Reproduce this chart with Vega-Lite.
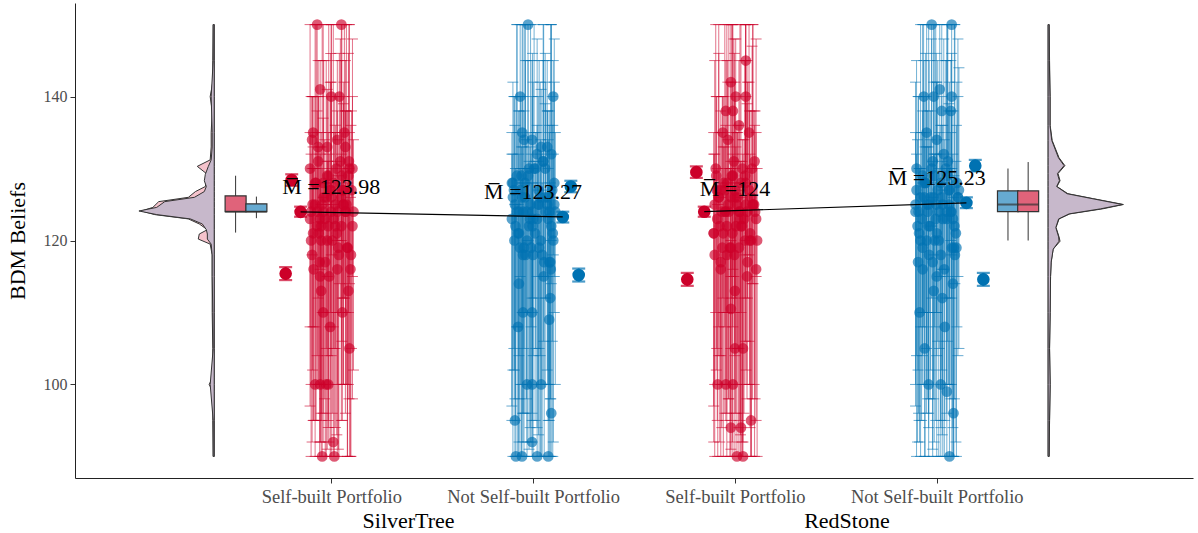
{
"$schema":"https://vega.github.io/schema/vega-lite/v6.json",
"width":1118,"height":475,
"autosize":{"type":"none"},
"padding":{"left":75,"top":3,"right":5,"bottom":55},
"config":{"view":{"stroke":null},"font":"Liberation Serif"},
"datasets":{
"pts":[
{"g":"S","x":0.93,"y":150,"lo":124,"hi":150},{"g":"S","x":1.05,"y":150,"lo":120,"hi":150},{"g":"S","x":0.945,"y":141,"lo":116,"hi":145},{"g":"S","x":1.0,"y":140,"lo":118,"hi":150},{"g":"S","x":1.04,"y":140,"lo":114,"hi":146},{"g":"S","x":0.91,"y":135,"lo":108,"hi":140},{"g":"S","x":1.065,"y":135,"lo":112,"hi":150},{"g":"S","x":0.905,"y":134,"lo":118,"hi":140},{"g":"S","x":1.03,"y":134,"lo":120,"hi":138},{"g":"S","x":0.98,"y":133,"lo":104,"hi":141},{"g":"S","x":1.07,"y":133,"lo":110,"hi":145},{"g":"S","x":0.935,"y":133,"lo":100,"hi":140},
{"g":"S","x":0.945,"y":115,"lo":100,"hi":128},{"g":"S","x":0.95,"y":113,"lo":95,"hi":125},{"g":"S","x":1.085,"y":113,"lo":100,"hi":130},{"g":"S","x":0.96,"y":110,"lo":92,"hi":126},{"g":"S","x":1.055,"y":110,"lo":95,"hi":130},{"g":"S","x":0.995,"y":108,"lo":90,"hi":128},{"g":"S","x":1.09,"y":105,"lo":90,"hi":135},{"g":"S","x":0.92,"y":100,"lo":90,"hi":130},{"g":"S","x":0.945,"y":100,"lo":92,"hi":128},{"g":"S","x":0.975,"y":100,"lo":90,"hi":125},{"g":"S","x":0.985,"y":100,"lo":95,"hi":135},{"g":"S","x":1.01,"y":92,"lo":90,"hi":125},{"g":"S","x":0.955,"y":90,"lo":90,"hi":130},{"g":"S","x":1.015,"y":90,"lo":90,"hi":140},
{"g":"S","x":0.9,"y":124,"lo":100,"hi":140},{"g":"S","x":0.925,"y":128,"lo":95,"hi":150},{"g":"S","x":0.95,"y":120,"lo":90,"hi":135},{"g":"S","x":0.975,"y":126,"lo":105,"hi":145},{"g":"S","x":1.0,"y":124,"lo":90,"hi":150},{"g":"S","x":1.025,"y":130,"lo":110,"hi":140},{"g":"S","x":1.05,"y":122,"lo":95,"hi":132},{"g":"S","x":1.075,"y":125,"lo":100,"hi":150},{"g":"S","x":1.1,"y":127,"lo":105,"hi":138},
{"g":"S","x":0.905,"y":118,"lo":92,"hi":130},{"g":"S","x":0.93,"y":122,"lo":100,"hi":135},{"g":"S","x":0.955,"y":125,"lo":110,"hi":150},{"g":"S","x":0.98,"y":129,"lo":115,"hi":140},{"g":"S","x":1.005,"y":120,"lo":96,"hi":130},{"g":"S","x":1.03,"y":124,"lo":100,"hi":145},{"g":"S","x":1.055,"y":127,"lo":112,"hi":135},{"g":"S","x":1.08,"y":119,"lo":90,"hi":128},{"g":"S","x":1.105,"y":122,"lo":98,"hi":140},
{"g":"S","x":0.895,"y":130,"lo":108,"hi":150},{"g":"S","x":0.92,"y":125,"lo":95,"hi":140},{"g":"S","x":0.945,"y":123,"lo":92,"hi":132},{"g":"S","x":0.97,"y":117,"lo":90,"hi":128},{"g":"S","x":0.995,"y":127,"lo":100,"hi":142},{"g":"S","x":1.02,"y":125,"lo":105,"hi":135},{"g":"S","x":1.045,"y":131,"lo":110,"hi":148},{"g":"S","x":1.07,"y":124,"lo":96,"hi":138},{"g":"S","x":1.095,"y":116,"lo":90,"hi":126},
{"g":"S","x":0.91,"y":121,"lo":95,"hi":133},{"g":"S","x":0.935,"y":131,"lo":112,"hi":145},{"g":"S","x":0.96,"y":124,"lo":100,"hi":137},{"g":"S","x":0.985,"y":122,"lo":94,"hi":131},{"g":"S","x":1.01,"y":128,"lo":108,"hi":150},{"g":"S","x":1.035,"y":119,"lo":91,"hi":129},{"g":"S","x":1.06,"y":125,"lo":100,"hi":140},{"g":"S","x":1.085,"y":129,"lo":110,"hi":146},{"g":"S","x":1.11,"y":124,"lo":102,"hi":134},
{"g":"S","x":0.9125,"y":116,"lo":95,"hi":130},{"g":"S","x":0.9375,"y":121,"lo":100,"hi":140},{"g":"S","x":0.9625,"y":126,"lo":110,"hi":145},{"g":"S","x":0.9875,"y":129,"lo":92,"hi":150},{"g":"S","x":1.0125,"y":123,"lo":105,"hi":135},{"g":"S","x":1.0375,"y":118,"lo":90,"hi":134},{"g":"S","x":1.0625,"y":127,"lo":112,"hi":142},{"g":"S","x":1.0875,"y":131,"lo":98,"hi":150},
{"g":"S","x":0.9,"y":120,"lo":90,"hi":132},{"g":"S","x":0.93,"y":124,"lo":104,"hi":138},{"g":"S","x":0.96,"y":128,"lo":96,"hi":150},{"g":"S","x":0.99,"y":115,"lo":108,"hi":132},{"g":"S","x":1.02,"y":122,"lo":94,"hi":136},{"g":"S","x":1.05,"y":126,"lo":100,"hi":145},{"g":"S","x":1.08,"y":119,"lo":90,"hi":138},{"g":"S","x":1.105,"y":130,"lo":115,"hi":148},
{"g":"S","x":0.9075,"y":125,"lo":102,"hi":140},{"g":"S","x":0.9425,"y":117,"lo":90,"hi":133},{"g":"S","x":0.9675,"y":123,"lo":98,"hi":134},{"g":"S","x":0.9975,"y":127,"lo":110,"hi":146},{"g":"S","x":1.0275,"y":121,"lo":93,"hi":131},{"g":"S","x":1.0525,"y":129,"lo":106,"hi":150},{"g":"S","x":1.0725,"y":124,"lo":100,"hi":138},{"g":"S","x":1.0975,"y":118,"lo":90,"hi":136},
{"g":"S","x":0.92,"y":128,"lo":108,"hi":150},{"g":"S","x":0.95,"y":122,"lo":96,"hi":133},{"g":"S","x":0.98,"y":120,"lo":91,"hi":131},{"g":"S","x":1.0,"y":126,"lo":104,"hi":142},{"g":"S","x":1.03,"y":116,"lo":90,"hi":127},{"g":"S","x":1.06,"y":125,"lo":100,"hi":139},{"g":"S","x":1.09,"y":130,"lo":114,"hi":150},{"g":"S","x":0.895,"y":123,"lo":97,"hi":135},

{"g":"N","x":1.975,"y":150,"lo":120,"hi":150},{"g":"N","x":1.936,"y":140,"lo":115,"hi":150},{"g":"N","x":2.1,"y":140,"lo":118,"hi":145},{"g":"N","x":1.946,"y":135,"lo":110,"hi":150},{"g":"N","x":1.995,"y":134,"lo":112,"hi":140},{"g":"N","x":1.955,"y":134,"lo":105,"hi":138},{"g":"N","x":2.07,"y":133,"lo":115,"hi":145},{"g":"N","x":2.04,"y":133,"lo":100,"hi":141},{"g":"N","x":2.09,"y":132,"lo":120,"hi":150},
{"g":"N","x":1.95,"y":110,"lo":92,"hi":130},{"g":"N","x":1.995,"y":110,"lo":95,"hi":128},{"g":"N","x":1.926,"y":108,"lo":90,"hi":125},{"g":"N","x":2.08,"y":109,"lo":95,"hi":135},{"g":"N","x":1.97,"y":100,"lo":90,"hi":130},{"g":"N","x":1.995,"y":100,"lo":92,"hi":128},{"g":"N","x":2.04,"y":100,"lo":90,"hi":132},{"g":"N","x":1.91,"y":95,"lo":90,"hi":125},{"g":"N","x":2.09,"y":96,"lo":90,"hi":126},{"g":"N","x":1.995,"y":92,"lo":90,"hi":130},{"g":"N","x":1.915,"y":90,"lo":90,"hi":140},{"g":"N","x":1.945,"y":90,"lo":90,"hi":128},{"g":"N","x":2.02,"y":90,"lo":90,"hi":135},{"g":"N","x":2.075,"y":90,"lo":90,"hi":130},{"g":"N","x":2.085,"y":112,"lo":98,"hi":128},{"g":"N","x":1.93,"y":114,"lo":92,"hi":132},
{"g":"N","x":1.9,"y":126,"lo":102,"hi":142},{"g":"N","x":1.925,"y":121,"lo":90,"hi":135},{"g":"N","x":1.95,"y":124,"lo":96,"hi":150},{"g":"N","x":1.975,"y":129,"lo":110,"hi":145},{"g":"N","x":2.0,"y":118,"lo":90,"hi":130},{"g":"N","x":2.025,"y":125,"lo":100,"hi":140},{"g":"N","x":2.05,"y":131,"lo":115,"hi":150},{"g":"N","x":2.075,"y":123,"lo":95,"hi":134},{"g":"N","x":2.1,"y":120,"lo":92,"hi":132},
{"g":"N","x":1.905,"y":127,"lo":105,"hi":140},{"g":"N","x":1.93,"y":124,"lo":98,"hi":138},{"g":"N","x":1.955,"y":119,"lo":90,"hi":128},{"g":"N","x":1.98,"y":122,"lo":100,"hi":135},{"g":"N","x":2.005,"y":130,"lo":112,"hi":150},{"g":"N","x":2.03,"y":125,"lo":105,"hi":145},{"g":"N","x":2.055,"y":117,"lo":90,"hi":126},{"g":"N","x":2.08,"y":124,"lo":100,"hi":136},{"g":"N","x":2.105,"y":128,"lo":110,"hi":142},
{"g":"N","x":1.895,"y":123,"lo":95,"hi":132},{"g":"N","x":1.92,"y":129,"lo":108,"hi":150},{"g":"N","x":1.945,"y":126,"lo":100,"hi":140},{"g":"N","x":1.97,"y":120,"lo":92,"hi":130},{"g":"N","x":1.995,"y":124,"lo":96,"hi":145},{"g":"N","x":2.02,"y":132,"lo":115,"hi":148},{"g":"N","x":2.045,"y":118,"lo":90,"hi":128},{"g":"N","x":2.07,"y":125,"lo":102,"hi":138},{"g":"N","x":2.095,"y":127,"lo":106,"hi":140},
{"g":"N","x":1.91,"y":125,"lo":98,"hi":136},{"g":"N","x":1.935,"y":119,"lo":90,"hi":130},{"g":"N","x":1.96,"y":128,"lo":110,"hi":150},{"g":"N","x":1.985,"y":123,"lo":94,"hi":133},{"g":"N","x":2.01,"y":121,"lo":95,"hi":131},{"g":"N","x":2.035,"y":126,"lo":104,"hi":142},{"g":"N","x":2.06,"y":130,"lo":112,"hi":146},{"g":"N","x":2.085,"y":117,"lo":90,"hi":127},{"g":"N","x":2.11,"y":124,"lo":100,"hi":135},
{"g":"N","x":1.9125,"y":122,"lo":95,"hi":130},{"g":"N","x":1.9375,"y":127,"lo":100,"hi":140},{"g":"N","x":1.9625,"y":118,"lo":110,"hi":145},{"g":"N","x":1.9875,"y":125,"lo":92,"hi":150},{"g":"N","x":2.0125,"y":130,"lo":105,"hi":135},{"g":"N","x":2.0375,"y":120,"lo":90,"hi":134},{"g":"N","x":2.0625,"y":124,"lo":112,"hi":142},{"g":"N","x":2.0875,"y":116,"lo":98,"hi":150},
{"g":"N","x":1.9,"y":128,"lo":90,"hi":132},{"g":"N","x":1.93,"y":121,"lo":104,"hi":138},{"g":"N","x":1.96,"y":126,"lo":96,"hi":150},{"g":"N","x":1.99,"y":119,"lo":108,"hi":132},{"g":"N","x":2.02,"y":123,"lo":94,"hi":136},{"g":"N","x":2.05,"y":131,"lo":100,"hi":145},{"g":"N","x":2.08,"y":117,"lo":90,"hi":138},{"g":"N","x":2.105,"y":125,"lo":115,"hi":148},
{"g":"N","x":1.9075,"y":120,"lo":102,"hi":140},{"g":"N","x":1.9425,"y":129,"lo":90,"hi":133},{"g":"N","x":1.9675,"y":124,"lo":98,"hi":134},{"g":"N","x":1.9975,"y":122,"lo":110,"hi":146},{"g":"N","x":2.0275,"y":127,"lo":93,"hi":131},{"g":"N","x":2.0525,"y":115,"lo":106,"hi":150},{"g":"N","x":2.0725,"y":126,"lo":100,"hi":138},{"g":"N","x":2.0975,"y":121,"lo":90,"hi":136},
{"g":"N","x":1.92,"y":124,"lo":108,"hi":150},{"g":"N","x":1.95,"y":118,"lo":96,"hi":133},{"g":"N","x":1.98,"y":130,"lo":91,"hi":131},{"g":"N","x":2.0,"y":123,"lo":104,"hi":142},{"g":"N","x":2.03,"y":119,"lo":90,"hi":127},{"g":"N","x":2.06,"y":126,"lo":100,"hi":139},{"g":"N","x":2.09,"y":122,"lo":114,"hi":150},{"g":"N","x":1.895,"y":128,"lo":97,"hi":135},

{"g":"S","x":3.054,"y":145,"lo":118,"hi":150},{"g":"S","x":2.98,"y":142,"lo":115,"hi":150},{"g":"S","x":3.004,"y":140,"lo":112,"hi":148},{"g":"S","x":3.054,"y":140,"lo":120,"hi":150},{"g":"S","x":2.955,"y":138,"lo":110,"hi":145},{"g":"S","x":2.99,"y":138,"lo":116,"hi":150},{"g":"S","x":3.02,"y":136,"lo":105,"hi":145},{"g":"S","x":2.94,"y":135,"lo":112,"hi":140},{"g":"S","x":3.07,"y":135,"lo":118,"hi":150},{"g":"S","x":2.965,"y":134,"lo":100,"hi":142},
{"g":"S","x":2.98,"y":110.5,"lo":95,"hi":130},{"g":"S","x":3.0,"y":105,"lo":90,"hi":128},{"g":"S","x":3.04,"y":105,"lo":92,"hi":132},{"g":"S","x":2.915,"y":100,"lo":90,"hi":125},{"g":"S","x":2.955,"y":100,"lo":95,"hi":130},{"g":"S","x":2.99,"y":100,"lo":90,"hi":135},{"g":"S","x":2.98,"y":94,"lo":90,"hi":120},{"g":"S","x":3.03,"y":94,"lo":90,"hi":126},{"g":"S","x":3.08,"y":95,"lo":90,"hi":130},{"g":"S","x":3.01,"y":90,"lo":90,"hi":135},{"g":"S","x":3.04,"y":90,"lo":90,"hi":128},{"g":"S","x":3.0,"y":113,"lo":96,"hi":130},{"g":"S","x":2.93,"y":116,"lo":100,"hi":128},
{"g":"S","x":2.9,"y":125,"lo":100,"hi":145},{"g":"S","x":2.925,"y":122,"lo":92,"hi":135},{"g":"S","x":2.95,"y":127,"lo":108,"hi":150},{"g":"S","x":2.975,"y":119,"lo":90,"hi":130},{"g":"S","x":3.0,"y":126,"lo":100,"hi":140},{"g":"S","x":3.025,"y":124,"lo":95,"hi":150},{"g":"S","x":3.05,"y":129,"lo":112,"hi":145},{"g":"S","x":3.075,"y":121,"lo":94,"hi":132},{"g":"S","x":3.1,"y":124,"lo":98,"hi":138},
{"g":"S","x":2.905,"y":130,"lo":110,"hi":150},{"g":"S","x":2.93,"y":117,"lo":90,"hi":126},{"g":"S","x":2.955,"y":124,"lo":100,"hi":136},{"g":"S","x":2.98,"y":126,"lo":105,"hi":142},{"g":"S","x":3.005,"y":122,"lo":96,"hi":133},{"g":"S","x":3.03,"y":128,"lo":110,"hi":150},{"g":"S","x":3.055,"y":125,"lo":102,"hi":140},{"g":"S","x":3.08,"y":120,"lo":90,"hi":130},{"g":"S","x":3.105,"y":123,"lo":95,"hi":135},
{"g":"S","x":2.895,"y":121,"lo":92,"hi":132},{"g":"S","x":2.92,"y":126,"lo":104,"hi":146},{"g":"S","x":2.945,"y":128,"lo":110,"hi":140},{"g":"S","x":2.97,"y":124,"lo":98,"hi":150},{"g":"S","x":2.995,"y":131,"lo":115,"hi":148},{"g":"S","x":3.02,"y":119,"lo":90,"hi":128},{"g":"S","x":3.045,"y":123,"lo":96,"hi":134},{"g":"S","x":3.07,"y":127,"lo":106,"hi":142},{"g":"S","x":3.095,"y":125,"lo":100,"hi":138},
{"g":"S","x":2.91,"y":127,"lo":105,"hi":140},{"g":"S","x":2.935,"y":124,"lo":94,"hi":135},{"g":"S","x":2.96,"y":118,"lo":90,"hi":128},{"g":"S","x":2.985,"y":129,"lo":112,"hi":150},{"g":"S","x":3.01,"y":125,"lo":100,"hi":136},{"g":"S","x":3.035,"y":122,"lo":92,"hi":131},{"g":"S","x":3.06,"y":124,"lo":98,"hi":145},{"g":"S","x":3.085,"y":130,"lo":114,"hi":147},{"g":"S","x":3.11,"y":120,"lo":90,"hi":130},
{"g":"S","x":2.9125,"y":123,"lo":95,"hi":130},{"g":"S","x":2.9375,"y":119,"lo":100,"hi":140},{"g":"S","x":2.9625,"y":128,"lo":110,"hi":145},{"g":"S","x":2.9875,"y":121,"lo":92,"hi":150},{"g":"S","x":3.0125,"y":126,"lo":105,"hi":135},{"g":"S","x":3.0375,"y":130,"lo":90,"hi":134},{"g":"S","x":3.0625,"y":117,"lo":112,"hi":142},{"g":"S","x":3.0875,"y":125,"lo":98,"hi":150},
{"g":"S","x":2.9,"y":118,"lo":90,"hi":132},{"g":"S","x":2.93,"y":127,"lo":104,"hi":138},{"g":"S","x":2.96,"y":122,"lo":96,"hi":150},{"g":"S","x":2.99,"y":129,"lo":108,"hi":132},{"g":"S","x":3.02,"y":124,"lo":94,"hi":136},{"g":"S","x":3.05,"y":120,"lo":100,"hi":145},{"g":"S","x":3.08,"y":126,"lo":90,"hi":138},{"g":"S","x":3.105,"y":116,"lo":115,"hi":148},
{"g":"S","x":2.9075,"y":129,"lo":102,"hi":140},{"g":"S","x":2.9425,"y":121,"lo":90,"hi":133},{"g":"S","x":2.9675,"y":125,"lo":98,"hi":134},{"g":"S","x":2.9975,"y":118,"lo":110,"hi":146},{"g":"S","x":3.0275,"y":123,"lo":93,"hi":131},{"g":"S","x":3.0525,"y":128,"lo":106,"hi":150},{"g":"S","x":3.0725,"y":120,"lo":100,"hi":138},{"g":"S","x":3.0975,"y":131,"lo":90,"hi":136},
{"g":"S","x":2.92,"y":126,"lo":108,"hi":150},{"g":"S","x":2.95,"y":124,"lo":96,"hi":133},{"g":"S","x":2.98,"y":119,"lo":91,"hi":131},{"g":"S","x":3.0,"y":127,"lo":104,"hi":142},{"g":"S","x":3.03,"y":122,"lo":90,"hi":127},{"g":"S","x":3.06,"y":115,"lo":100,"hi":139},{"g":"S","x":3.09,"y":125,"lo":114,"hi":150},{"g":"S","x":2.895,"y":121,"lo":97,"hi":135},

{"g":"N","x":3.975,"y":150,"lo":122,"hi":150},{"g":"N","x":4.074,"y":150,"lo":118,"hi":150},{"g":"N","x":4.015,"y":141,"lo":115,"hi":150},{"g":"N","x":3.936,"y":140,"lo":110,"hi":145},{"g":"N","x":3.985,"y":140,"lo":118,"hi":150},{"g":"N","x":4.074,"y":140,"lo":112,"hi":146},{"g":"N","x":4.025,"y":138,"lo":116,"hi":150},{"g":"N","x":4.07,"y":138,"lo":120,"hi":145},{"g":"N","x":3.95,"y":135,"lo":105,"hi":140},{"g":"N","x":4.0,"y":134,"lo":110,"hi":142},
{"g":"N","x":3.915,"y":110,"lo":92,"hi":130},{"g":"N","x":3.96,"y":100,"lo":90,"hi":128},{"g":"N","x":4.02,"y":100,"lo":95,"hi":132},{"g":"N","x":4.05,"y":99,"lo":90,"hi":130},{"g":"N","x":4.083,"y":96,"lo":90,"hi":126},{"g":"N","x":4.063,"y":90,"lo":90,"hi":130},{"g":"N","x":3.94,"y":105,"lo":90,"hi":135},{"g":"N","x":4.04,"y":108,"lo":95,"hi":128},{"g":"N","x":3.985,"y":113,"lo":98,"hi":132},{"g":"N","x":3.93,"y":116,"lo":100,"hi":128},
{"g":"N","x":3.9,"y":127,"lo":104,"hi":145},{"g":"N","x":3.925,"y":123,"lo":95,"hi":135},{"g":"N","x":3.95,"y":125,"lo":100,"hi":150},{"g":"N","x":3.975,"y":130,"lo":112,"hi":148},{"g":"N","x":4.0,"y":121,"lo":90,"hi":132},{"g":"N","x":4.025,"y":126,"lo":102,"hi":140},{"g":"N","x":4.05,"y":124,"lo":96,"hi":150},{"g":"N","x":4.075,"y":119,"lo":90,"hi":130},{"g":"N","x":4.1,"y":128,"lo":108,"hi":142},
{"g":"N","x":3.905,"y":122,"lo":92,"hi":134},{"g":"N","x":3.93,"y":129,"lo":110,"hi":150},{"g":"N","x":3.955,"y":124,"lo":98,"hi":138},{"g":"N","x":3.98,"y":117,"lo":90,"hi":126},{"g":"N","x":4.005,"y":127,"lo":106,"hi":145},{"g":"N","x":4.03,"y":125,"lo":100,"hi":136},{"g":"N","x":4.055,"y":131,"lo":115,"hi":150},{"g":"N","x":4.08,"y":123,"lo":94,"hi":132},{"g":"N","x":4.105,"y":126,"lo":104,"hi":140},
{"g":"N","x":3.895,"y":125,"lo":100,"hi":142},{"g":"N","x":3.92,"y":120,"lo":90,"hi":130},{"g":"N","x":3.945,"y":128,"lo":110,"hi":146},{"g":"N","x":3.97,"y":126,"lo":102,"hi":138},{"g":"N","x":3.995,"y":123,"lo":95,"hi":150},{"g":"N","x":4.02,"y":118,"lo":90,"hi":128},{"g":"N","x":4.045,"y":130,"lo":112,"hi":145},{"g":"N","x":4.07,"y":124,"lo":98,"hi":135},{"g":"N","x":4.095,"y":121,"lo":92,"hi":131},
{"g":"N","x":3.91,"y":124,"lo":96,"hi":140},{"g":"N","x":3.935,"y":128,"lo":108,"hi":150},{"g":"N","x":3.96,"y":122,"lo":94,"hi":133},{"g":"N","x":3.985,"y":126,"lo":100,"hi":142},{"g":"N","x":4.01,"y":120,"lo":90,"hi":130},{"g":"N","x":4.035,"y":132,"lo":116,"hi":148},{"g":"N","x":4.06,"y":125,"lo":100,"hi":138},{"g":"N","x":4.085,"y":119,"lo":90,"hi":129},{"g":"N","x":4.11,"y":127,"lo":105,"hi":144},
{"g":"N","x":3.9125,"y":121,"lo":95,"hi":130},{"g":"N","x":3.9375,"y":126,"lo":100,"hi":140},{"g":"N","x":3.9625,"y":118,"lo":110,"hi":145},{"g":"N","x":3.9875,"y":129,"lo":92,"hi":150},{"g":"N","x":4.0125,"y":124,"lo":105,"hi":135},{"g":"N","x":4.0375,"y":116,"lo":90,"hi":134},{"g":"N","x":4.0625,"y":127,"lo":112,"hi":142},{"g":"N","x":4.0875,"y":122,"lo":98,"hi":150},
{"g":"N","x":3.9,"y":130,"lo":90,"hi":132},{"g":"N","x":3.93,"y":119,"lo":104,"hi":138},{"g":"N","x":3.96,"y":125,"lo":96,"hi":150},{"g":"N","x":3.99,"y":120,"lo":108,"hi":132},{"g":"N","x":4.02,"y":128,"lo":94,"hi":136},{"g":"N","x":4.05,"y":123,"lo":100,"hi":145},{"g":"N","x":4.08,"y":114,"lo":90,"hi":138},{"g":"N","x":4.105,"y":126,"lo":115,"hi":148},
{"g":"N","x":3.9075,"y":117,"lo":102,"hi":140},{"g":"N","x":3.9425,"y":128,"lo":90,"hi":133},{"g":"N","x":3.9675,"y":122,"lo":98,"hi":134},{"g":"N","x":3.9975,"y":125,"lo":110,"hi":146},{"g":"N","x":4.0275,"y":112,"lo":93,"hi":131},{"g":"N","x":4.0525,"y":129,"lo":106,"hi":150},{"g":"N","x":4.0725,"y":124,"lo":100,"hi":138},{"g":"N","x":4.0975,"y":119,"lo":90,"hi":136},
{"g":"N","x":3.92,"y":126,"lo":108,"hi":150},{"g":"N","x":3.95,"y":120,"lo":96,"hi":133},{"g":"N","x":3.98,"y":131,"lo":91,"hi":131},{"g":"N","x":4.0,"y":115,"lo":104,"hi":142},{"g":"N","x":4.03,"y":123,"lo":90,"hi":127},{"g":"N","x":4.06,"y":127,"lo":100,"hi":139},{"g":"N","x":4.09,"y":118,"lo":114,"hi":150},{"g":"N","x":3.895,"y":124,"lo":97,"hi":135}
],
"dens":[
{"side":"L","g":"S","y":90,"edge":0.415},{"side":"L","g":"S","y":95,"edge":0.413},{"side":"L","g":"S","y":99,"edge":0.413},{"side":"L","g":"S","y":100,"edge":0.395},{"side":"L","g":"S","y":101,"edge":0.413},{"side":"L","g":"S","y":105,"edge":0.413},{"side":"L","g":"S","y":110,"edge":0.41},{"side":"L","g":"S","y":115,"edge":0.41},{"side":"L","g":"S","y":118,"edge":0.41},{"side":"L","g":"S","y":119.5,"edge":0.4},{"side":"L","g":"S","y":120.2,"edge":0.341},{"side":"L","g":"S","y":120.9,"edge":0.346},{"side":"L","g":"S","y":121.5,"edge":0.386},{"side":"L","g":"S","y":122.3,"edge":0.346},{"side":"L","g":"S","y":123.0,"edge":0.292},{"side":"L","g":"S","y":123.6,"edge":0.125},{"side":"L","g":"S","y":124.1,"edge":0.06},{"side":"L","g":"S","y":124.6,"edge":0.116},{"side":"L","g":"S","y":125.4,"edge":0.145},{"side":"L","g":"S","y":126.0,"edge":0.292},{"side":"L","g":"S","y":126.8,"edge":0.327},{"side":"L","g":"S","y":127.5,"edge":0.376},{"side":"L","g":"S","y":128.3,"edge":0.381},{"side":"L","g":"S","y":129.2,"edge":0.386},{"side":"L","g":"S","y":130.3,"edge":0.336},{"side":"L","g":"S","y":131.2,"edge":0.4},{"side":"L","g":"S","y":133,"edge":0.405},{"side":"L","g":"S","y":135,"edge":0.405},{"side":"L","g":"S","y":138,"edge":0.41},{"side":"L","g":"S","y":140,"edge":0.4},{"side":"L","g":"S","y":142,"edge":0.413},{"side":"L","g":"S","y":145,"edge":0.413},{"side":"L","g":"S","y":150,"edge":0.415},
{"side":"L","g":"N","y":90,"edge":0.415},{"side":"L","g":"N","y":95,"edge":0.415},{"side":"L","g":"N","y":100,"edge":0.4},{"side":"L","g":"N","y":105,"edge":0.415},{"side":"L","g":"N","y":110,"edge":0.413},{"side":"L","g":"N","y":115,"edge":0.41},{"side":"L","g":"N","y":118,"edge":0.41},{"side":"L","g":"N","y":119.5,"edge":0.405},{"side":"L","g":"N","y":120.2,"edge":0.386},{"side":"L","g":"N","y":120.9,"edge":0.386},{"side":"L","g":"N","y":121.5,"edge":0.381},{"side":"L","g":"N","y":122.3,"edge":0.361},{"side":"L","g":"N","y":123.0,"edge":0.302},{"side":"L","g":"N","y":123.6,"edge":0.135},{"side":"L","g":"N","y":124.1,"edge":0.047},{"side":"L","g":"N","y":124.6,"edge":0.135},{"side":"L","g":"N","y":125.4,"edge":0.175},{"side":"L","g":"N","y":126.0,"edge":0.322},{"side":"L","g":"N","y":126.8,"edge":0.371},{"side":"L","g":"N","y":127.5,"edge":0.381},{"side":"L","g":"N","y":128.3,"edge":0.371},{"side":"L","g":"N","y":129.2,"edge":0.376},{"side":"L","g":"N","y":130.3,"edge":0.391},{"side":"L","g":"N","y":131.2,"edge":0.405},{"side":"L","g":"N","y":133,"edge":0.41},{"side":"L","g":"N","y":135,"edge":0.41},{"side":"L","g":"N","y":140,"edge":0.405},{"side":"L","g":"N","y":145,"edge":0.415},{"side":"L","g":"N","y":150,"edge":0.415},
{"side":"R","g":"S","y":90,"edge":4.557},{"side":"R","g":"S","y":95,"edge":4.559},{"side":"R","g":"S","y":100,"edge":4.562},{"side":"R","g":"S","y":105,"edge":4.559},{"side":"R","g":"S","y":110,"edge":4.562},{"side":"R","g":"S","y":115,"edge":4.564},{"side":"R","g":"S","y":117,"edge":4.567},{"side":"R","g":"S","y":118.8,"edge":4.577},{"side":"R","g":"S","y":119.9,"edge":4.611},{"side":"R","g":"S","y":120.5,"edge":4.606},{"side":"R","g":"S","y":121.8,"edge":4.591},{"side":"R","g":"S","y":123.0,"edge":4.606},{"side":"R","g":"S","y":123.7,"edge":4.66},{"side":"R","g":"S","y":124.4,"edge":4.822},{"side":"R","g":"S","y":125.0,"edge":4.925},{"side":"R","g":"S","y":125.8,"edge":4.778},{"side":"R","g":"S","y":126.5,"edge":4.65},{"side":"R","g":"S","y":127.5,"edge":4.596},{"side":"R","g":"S","y":128.3,"edge":4.611},{"side":"R","g":"S","y":129.3,"edge":4.601},{"side":"R","g":"S","y":130.4,"edge":4.635},{"side":"R","g":"S","y":131.5,"edge":4.606},{"side":"R","g":"S","y":133.9,"edge":4.572},{"side":"R","g":"S","y":136,"edge":4.562},{"side":"R","g":"S","y":140,"edge":4.562},{"side":"R","g":"S","y":145,"edge":4.559},{"side":"R","g":"S","y":150,"edge":4.557},
{"side":"R","g":"N","y":90,"edge":4.557},{"side":"R","g":"N","y":95,"edge":4.559},{"side":"R","g":"N","y":100,"edge":4.562},{"side":"R","g":"N","y":105,"edge":4.559},{"side":"R","g":"N","y":110,"edge":4.562},{"side":"R","g":"N","y":115,"edge":4.564},{"side":"R","g":"N","y":117,"edge":4.567},{"side":"R","g":"N","y":118.8,"edge":4.577},{"side":"R","g":"N","y":119.9,"edge":4.606},{"side":"R","g":"N","y":120.5,"edge":4.604},{"side":"R","g":"N","y":121.8,"edge":4.59},{"side":"R","g":"N","y":123.0,"edge":4.604},{"side":"R","g":"N","y":123.7,"edge":4.656},{"side":"R","g":"N","y":124.4,"edge":4.812},{"side":"R","g":"N","y":125.0,"edge":4.92},{"side":"R","g":"N","y":125.8,"edge":4.773},{"side":"R","g":"N","y":126.5,"edge":4.646},{"side":"R","g":"N","y":127.5,"edge":4.594},{"side":"R","g":"N","y":128.3,"edge":4.608},{"side":"R","g":"N","y":129.3,"edge":4.598},{"side":"R","g":"N","y":130.4,"edge":4.631},{"side":"R","g":"N","y":131.5,"edge":4.603},{"side":"R","g":"N","y":133.9,"edge":4.57},{"side":"R","g":"N","y":136,"edge":4.561},{"side":"R","g":"N","y":140,"edge":4.561},{"side":"R","g":"N","y":145,"edge":4.558},{"side":"R","g":"N","y":150,"edge":4.557}
],
"box":[
{"g":"S","x":0.526,"lo":121.1,"q1":124.0,"med":124.0,"q3":126.2,"hi":129.0},
{"g":"N","x":0.629,"lo":123.1,"q1":124.0,"med":124.0,"q3":125.1,"hi":126.1},
{"g":"N","x":4.353,"lo":120,"q1":124,"med":125,"q3":126.9,"hi":130},
{"g":"S","x":4.453,"lo":120,"q1":124,"med":125,"q3":126.9,"hi":130.9}
],
"sum":[
{"g":"S","x":0.804,"m":128.4,"lo":127.6,"hi":129.2},{"g":"S","x":0.848,"m":123.98,"lo":123.3,"hi":124.7},{"g":"S","x":0.774,"m":115.4,"lo":114.5,"hi":116.3},
{"g":"N","x":2.187,"m":127.5,"lo":126.7,"hi":128.3},{"g":"N","x":2.147,"m":123.27,"lo":122.5,"hi":124.0},{"g":"N","x":2.226,"m":115.2,"lo":114.3,"hi":116.1},
{"g":"S","x":2.809,"m":129.5,"lo":128.7,"hi":130.3},{"g":"S","x":2.848,"m":124.0,"lo":123.3,"hi":124.7},{"g":"S","x":2.764,"m":114.6,"lo":113.7,"hi":115.5},
{"g":"N","x":4.191,"m":130.4,"lo":129.6,"hi":131.2},{"g":"N","x":4.147,"m":125.23,"lo":124.5,"hi":126.0},{"g":"N","x":4.231,"m":114.6,"lo":113.7,"hi":115.5}
],
"mline":[
{"co":"SilverTree","x":0.848,"m":123.98},{"co":"SilverTree","x":2.147,"m":123.27},
{"co":"RedStone","x":2.848,"m":124.0},{"co":"RedStone","x":4.147,"m":125.23}
],
"ann":[
{"x":1.0,"y":127.4,"label":"M\u0305  =123.98"},{"x":2.0,"y":126.7,"label":"M\u0305  =123.27"},
{"x":3.0,"y":127.2,"label":"M\u0305  =124"},{"x":4.0,"y":128.75,"label":"M\u0305  =125.23"}
],
"grp":[
{"x":1.383,"y":81,"label":"SilverTree"},{"x":3.555,"y":81,"label":"RedStone"}
]
},
"layer":[
{"data":{"name":"dens"},"transform":[{"filter":"datum.side=='L' && datum.g=='S'"}],
 "mark":{"type":"area","orient":"horizontal","fill":"#f5c3cc","stroke":"#333333","strokeWidth":1},
 "encoding":{
  "y":{"field":"y","type":"quantitative","scale":{"domain":[87,153],"nice":false,"zero":false},
       "axis":{"values":[100,120,140],"title":"BDM Beliefs","titleFont":"Liberation Serif","titleFontSize":22,"titleFontWeight":"normal","titleColor":"#000000","titlePadding":14,"labelFont":"Liberation Serif","labelFontSize":16,"labelColor":"#4d4d4d","tickColor":"#333333","tickSize":5,"domainColor":"#222222","grid":false,"labelPadding":3}},
  "x":{"field":"edge","type":"quantitative","scale":{"domain":[-0.245,5.245],"nice":false,"zero":false},
       "axis":{"values":[1,2,3,4],"title":null,"labelExpr":"datum.value==1||datum.value==3?'Self-built Portfolio':'Not Self-built Portfolio'","labelFont":"Liberation Serif","labelFontSize":18.5,"labelColor":"#4d4d4d","tickColor":"#333333","tickSize":5,"domainColor":"#222222","grid":false,"labelPadding":4}},
  "x2":{"datum":0.42}}},
{"data":{"name":"dens"},"transform":[{"filter":"datum.side=='L' && datum.g=='N'"}],
 "mark":{"type":"area","orient":"horizontal","fill":"#c7b8cb","stroke":"#333333","strokeWidth":1},
 "encoding":{"y":{"field":"y","type":"quantitative"},"x":{"field":"edge","type":"quantitative"},"x2":{"datum":0.42}}},
{"data":{"name":"dens"},"transform":[{"filter":"datum.side=='R' && datum.g=='S'"}],
 "mark":{"type":"area","orient":"horizontal","fill":"#f5c3cc","stroke":"#333333","strokeWidth":1},
 "encoding":{"y":{"field":"y","type":"quantitative"},"x":{"field":"edge","type":"quantitative"},"x2":{"datum":4.552}}},
{"data":{"name":"dens"},"transform":[{"filter":"datum.side=='R' && datum.g=='N'"}],
 "mark":{"type":"area","orient":"horizontal","fill":"#c7b8cb","stroke":"#333333","strokeWidth":1},
 "encoding":{"y":{"field":"y","type":"quantitative"},"x":{"field":"edge","type":"quantitative"},"x2":{"datum":4.552}}},
{"data":{"name":"box"},"mark":{"type":"rule","color":"#333333","strokeWidth":1},
 "encoding":{"x":{"field":"x","type":"quantitative"},"y":{"field":"lo","type":"quantitative"},"y2":{"field":"hi"}}},
{"data":{"name":"box"},"mark":{"type":"bar","width":21,"stroke":"#333333","strokeWidth":1.2},
 "encoding":{"x":{"field":"x","type":"quantitative"},"y":{"field":"q1","type":"quantitative"},"y2":{"field":"q3"},
  "fill":{"field":"g","type":"nominal","scale":{"domain":["S","N"],"range":["#E0637A","#66AAD1"]},"legend":null}}},
{"data":{"name":"box"},"mark":{"type":"tick","orient":"horizontal","size":21,"thickness":2,"color":"#333333"},
 "encoding":{"x":{"field":"x","type":"quantitative"},"y":{"field":"med","type":"quantitative"}}},
{"data":{"name":"pts"},"mark":{"type":"rule","strokeWidth":1,"opacity":0.55},
 "encoding":{"x":{"field":"x","type":"quantitative"},"y":{"field":"lo","type":"quantitative"},"y2":{"field":"hi"},
  "color":{"field":"g","type":"nominal","scale":{"domain":["S","N"],"range":["#CC0029","#0072B2"]},"legend":null}}},
{"data":{"name":"pts"},"mark":{"type":"tick","orient":"horizontal","size":11,"thickness":1,"opacity":0.6},
 "encoding":{"x":{"field":"x","type":"quantitative"},"y":{"field":"lo","type":"quantitative"},"color":{"field":"g","type":"nominal","legend":null}}},
{"data":{"name":"pts"},"mark":{"type":"tick","orient":"horizontal","size":11,"thickness":1,"opacity":0.6},
 "encoding":{"x":{"field":"x","type":"quantitative"},"y":{"field":"hi","type":"quantitative"},"color":{"field":"g","type":"nominal","legend":null}}},
{"data":{"name":"pts"},"mark":{"type":"circle","size":115,"opacity":0.65},
 "encoding":{"x":{"field":"x","type":"quantitative"},"y":{"field":"y","type":"quantitative"},"color":{"field":"g","type":"nominal","legend":null}}},
{"data":{"name":"sum"},"mark":{"type":"rule","strokeWidth":2.2},
 "encoding":{"x":{"field":"x","type":"quantitative"},"y":{"field":"lo","type":"quantitative"},"y2":{"field":"hi"},"color":{"field":"g","type":"nominal","legend":null}}},
{"data":{"name":"sum"},"mark":{"type":"tick","orient":"horizontal","size":13,"thickness":2.2},
 "encoding":{"x":{"field":"x","type":"quantitative"},"y":{"field":"lo","type":"quantitative"},"color":{"field":"g","type":"nominal","legend":null}}},
{"data":{"name":"sum"},"mark":{"type":"tick","orient":"horizontal","size":13,"thickness":2.2},
 "encoding":{"x":{"field":"x","type":"quantitative"},"y":{"field":"hi","type":"quantitative"},"color":{"field":"g","type":"nominal","legend":null}}},
{"data":{"name":"sum"},"mark":{"type":"circle","size":160,"opacity":1},
 "encoding":{"x":{"field":"x","type":"quantitative"},"y":{"field":"m","type":"quantitative"},"color":{"field":"g","type":"nominal","legend":null}}},
{"data":{"name":"mline"},"mark":{"type":"line","color":"#000000","strokeWidth":1.2},
 "encoding":{"x":{"field":"x","type":"quantitative"},"y":{"field":"m","type":"quantitative"},"detail":{"field":"co"}}},
{"data":{"name":"ann"},"mark":{"type":"text","font":"Liberation Serif","fontSize":22,"color":"#000000","align":"center","baseline":"middle"},
 "encoding":{"x":{"field":"x","type":"quantitative"},"y":{"field":"y","type":"quantitative"},"text":{"field":"label"}}},
{"data":{"name":"grp"},"mark":{"type":"text","font":"Liberation Serif","fontSize":22,"color":"#000000","align":"center","baseline":"middle"},
 "encoding":{"x":{"field":"x","type":"quantitative"},"y":{"field":"y","type":"quantitative"},"text":{"field":"label"}}}
]
}
